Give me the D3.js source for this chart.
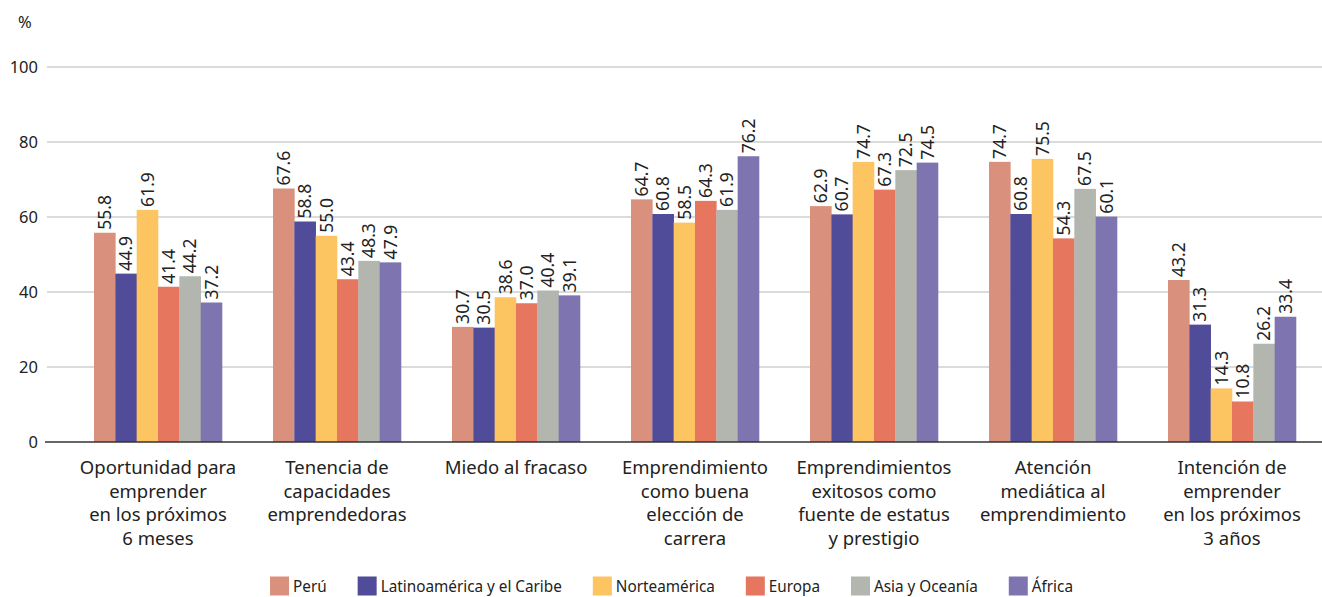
<!DOCTYPE html>
<html>
<head>
<meta charset="utf-8">
<script src="https://cdn.jsdelivr.net/npm/d3@7"></script>
<style>
  body { margin: 0; background: #fff; }
  svg text { font-family: "Noto Sans", "Open Sans", sans-serif; fill: #222; }
</style>
</head>
<body>
<div id="chart"></div>
<script>
// data
const categories = [
    ["Oportunidad para", "emprender", "en los próximos", "6 meses"],
    ["Tenencia de", "capacidades", "emprendedoras"],
    ["Miedo al fracaso"],
    ["Emprendimiento", "como buena", "elección de", "carrera"],
    ["Emprendimientos", "exitosos como", "fuente de estatus", "y prestigio"],
    ["Atención", "mediática al", "emprendimiento"],
    ["Intención de", "emprender", "en los próximos", "3 años"]
];
const seriesNames = ["Perú", "Latinoamérica y el Caribe", "Norteamérica", "Europa", "Asia y Oceanía", "África"];
const peru = [55.8, 67.6, 30.7, 64.7, 62.9, 74.7, 43.2];
const latam = [44.9, 58.8, 30.5, 60.8, 60.7, 60.8, 31.3];
const norte = [61.9, 55.0, 38.6, 58.5, 74.7, 75.5, 14.3];
const europa = [41.4, 43.4, 37.0, 64.3, 67.3, 54.3, 10.8];
const asia = [44.2, 48.3, 40.4, 61.9, 72.5, 67.5, 26.2];
const africa = [37.2, 47.9, 39.1, 76.2, 74.5, 60.1, 33.4];
const yTicks = [0, 20, 40, 60, 80, 100];

const colors = ["#d9907c", "#514c9a", "#fdc462", "#e6765e", "#b3b6af", "#7d74b0"];
const allSeries = [peru, latam, norte, europa, asia, africa];

const W = 1322, H = 597;
const left = 47, zeroY = 442, topY = 67;

const svg = d3.select("#chart").append("svg")
    .attr("width", W)
    .attr("height", H);

const idx = categories.map((d, i) => i);

const x0 = d3.scaleBand().domain(idx).range([68.5, 1321.5])
    .paddingInner(0.285).paddingOuter(0.1425);
const x1 = d3.scaleBand().domain(d3.range(seriesNames.length)).range([0, x0.bandwidth()]);
const y = d3.scaleLinear().domain([0, 100]).range([zeroY, topY]);

// gridlines
svg.append("g").selectAll("line")
    .data(yTicks.filter(t => t > 0))
    .enter().append("line")
    .attr("x1", left).attr("x2", W)
    .attr("y1", d => y(d)).attr("y2", d => y(d))
    .attr("stroke", "#cfcfcb").attr("stroke-width", 1.3);

// y tick labels
svg.append("g").selectAll("text")
    .data(yTicks)
    .enter().append("text")
    .attr("x", 38)
    .attr("y", d => y(d))
    .attr("dy", "0.35em")
    .attr("text-anchor", "end")
    .style("font-size", "16.5px")
    .text(d => d);

svg.append("text")
    .attr("x", 18).attr("y", 28)
    .style("font-size", "16.5px")
    .text("%");

// bars
const groups = svg.append("g").selectAll("g")
    .data(idx)
    .enter().append("g")
    .attr("transform", d => "translate(" + x0(d) + ",0)");

groups.selectAll("rect")
    .data(c => allSeries.map((s, k) => ({ k: k, v: s[c] })))
    .enter().append("rect")
    .attr("x", d => x1(d.k))
    .attr("y", d => y(d.v))
    .attr("width", x1.bandwidth() + 0.3)
    .attr("height", d => zeroY - y(d.v))
    .attr("fill", d => colors[d.k]);

// value labels (rotated)
groups.selectAll("text.val")
    .data(c => allSeries.map((s, k) => ({ k: k, v: s[c] })))
    .enter().append("text")
    .attr("class", "val")
    .attr("transform", d => "translate(" + (x1(d.k) + x1.bandwidth() / 2) + "," + (y(d.v) - 3) + ") rotate(-90)")
    .attr("dy", "0.36em")
    .style("font-size", "17.5px")
    .text(d => d.v.toFixed(1));

// baseline
svg.append("line")
    .attr("x1", 45).attr("x2", W)
    .attr("y1", zeroY).attr("y2", zeroY)
    .attr("stroke", "#333").attr("stroke-width", 1.5);

// category labels
const catLabels = svg.append("g").selectAll("text")
    .data(idx)
    .enter().append("text")
    .attr("text-anchor", "middle")
    .attr("x", d => x0(d) + x0.bandwidth() / 2)
    .attr("y", 474)
    .style("font-size", "18.5px");

catLabels.selectAll("tspan")
    .data(d => categories[d].map(l => ({ l: l, c: d })))
    .enter().append("tspan")
    .attr("x", d => x0(d.c) + x0.bandwidth() / 2)
    .attr("dy", (d, i) => i === 0 ? 0 : 23.5)
    .text(d => d.l);

// legend (text squeezed a little, the original font is condensed)
const squeeze = 0.9;
const legend = svg.append("g");
let lx = 0;
const items = [];
seriesNames.forEach((name, k) => {
    const g = legend.append("g");
    g.append("rect").attr("x", 0).attr("y", -9.5).attr("width", 19).attr("height", 19).attr("fill", colors[k]);
    const t = g.append("text")
        .attr("transform", "translate(23,0) scale(" + squeeze + ",1)")
        .attr("dy", "0.36em")
        .style("font-size", "17px")
        .text(name);
    items.push({ g: g, w: 23 + t.node().getComputedTextLength() * squeeze });
});
items.forEach(it => {
    it.g.attr("transform", "translate(" + lx + ",0)");
    lx += it.w + 31;
});
lx -= 31;
legend.attr("transform", "translate(" + (671.5 - lx / 2) + ",586)");
</script>
</body>
</html>
